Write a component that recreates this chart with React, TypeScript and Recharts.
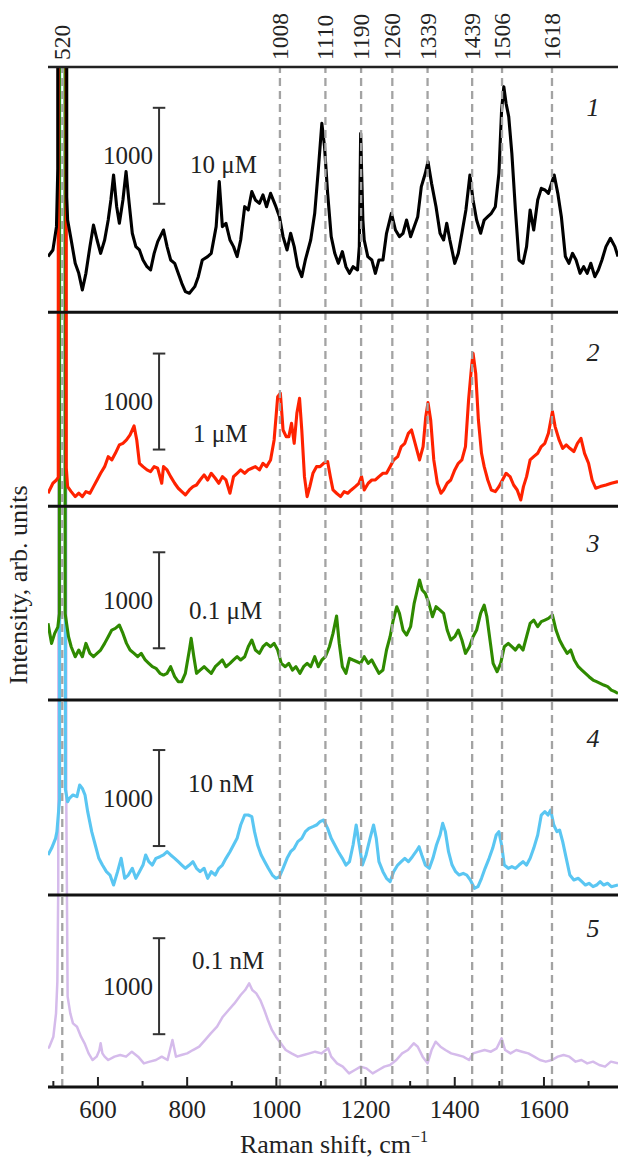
import { LineChart, Line, XAxis, YAxis, ReferenceLine } from 'recharts';

// Raman shift (cm-1) / intensity pairs, one array per spectrum.
// Intensity is counted from the bottom of each spectrum's own panel.
const spectrum10uM: [number, number][] = [
  [488, 580], [499, 649], [507, 892], [510, 1500], [510.5, 40000], [529.5, 40000], [530, 1200], [532, 961],
  [540, 753], [549, 510], [557, 406], [565, 232], [573, 406], [582, 684], [590, 909], [598, 753],
  [606, 614], [615, 753], [623, 961], [629, 1170], [635, 1430], [642, 1100], [648, 927], [656, 1170],
  [663, 1465], [670, 1135], [677, 823], [685, 684], [693, 649], [701, 545], [710, 475], [718, 441],
  [726, 614], [734, 736], [747, 857], [755, 684], [763, 545], [772, 510], [780, 406], [788, 302],
  [796, 215], [805, 198], [817, 267], [825, 371], [834, 545], [846, 580], [854, 614], [865, 892],
  [872, 1361], [879, 892], [887, 927], [896, 753], [904, 684], [912, 580], [920, 753], [929, 1100],
  [937, 1066], [945, 1257], [953, 1170], [962, 1135], [970, 1222], [978, 1100], [987, 1239], [999, 1100],
  [1007, 996], [1015, 788], [1024, 649], [1032, 823], [1040, 684], [1048, 475], [1057, 371], [1065, 545],
  [1077, 753], [1086, 1031], [1094, 1482], [1102, 1968], [1108, 1725], [1115, 1239], [1123, 788], [1131, 614],
  [1139, 510], [1148, 632], [1156, 475], [1164, 406], [1172, 475], [1182, 441], [1186, 684], [1189, 1864],
  [1194, 961], [1197, 753], [1205, 580], [1214, 545], [1222, 406], [1230, 545], [1239, 545], [1247, 823],
  [1258, 1031], [1267, 857], [1276, 788], [1284, 823], [1292, 961], [1301, 788], [1309, 892], [1317, 996],
  [1325, 1309], [1334, 1448], [1340, 1569], [1348, 1343], [1358, 1100], [1367, 823], [1375, 753], [1382, 927],
  [1389, 753], [1400, 510], [1408, 614], [1416, 823], [1425, 1066], [1434, 1430], [1441, 1170], [1449, 961],
  [1458, 823], [1466, 961], [1474, 996], [1482, 1031], [1491, 1100], [1499, 1448], [1505, 2107], [1510, 2350],
  [1515, 2177], [1521, 2038], [1528, 1656], [1536, 1066], [1544, 545], [1553, 510], [1561, 684], [1569, 1066],
  [1577, 857], [1586, 1170], [1594, 1291], [1602, 1274], [1610, 1239], [1623, 1430], [1631, 1239], [1639, 996],
  [1648, 580], [1656, 510], [1664, 614], [1672, 545], [1681, 406], [1689, 475], [1697, 406], [1705, 510],
  [1714, 371], [1722, 441], [1730, 545], [1739, 684], [1749, 770], [1759, 684], [1766, 580],
];

const spectrum1uM: [number, number][] = [
  [488, 135], [499, 239], [507, 273], [511, 300], [511.5, 40000], [528.5, 40000], [529, 400], [532, 204],
  [540, 152], [549, 100], [557, 135], [565, 100], [573, 152], [582, 135], [590, 204], [598, 273],
  [606, 343], [615, 412], [623, 516], [631, 482], [639, 551], [648, 638], [656, 655], [664, 690],
  [672, 742], [681, 836], [687, 690], [693, 447], [701, 412], [710, 378], [718, 360], [726, 412],
  [734, 395], [743, 239], [747, 412], [755, 378], [763, 308], [772, 239], [780, 187], [788, 152],
  [796, 117], [805, 169], [813, 204], [821, 221], [829, 273], [838, 326], [846, 273], [854, 343],
  [863, 291], [871, 239], [879, 308], [887, 273], [896, 135], [904, 308], [912, 343], [920, 378],
  [929, 343], [937, 378], [945, 395], [953, 412], [962, 378], [970, 447], [978, 412], [987, 482],
  [995, 690], [1003, 1141], [1009, 1176], [1015, 794], [1022, 725], [1028, 725], [1034, 864], [1040, 655],
  [1046, 968], [1052, 1124], [1057, 794], [1063, 308], [1069, 100], [1075, 204], [1082, 343], [1090, 412],
  [1098, 412], [1106, 447], [1115, 464], [1121, 308], [1127, 169], [1135, 135], [1144, 100], [1152, 152],
  [1160, 135], [1168, 169], [1177, 204], [1185, 239], [1191, 308], [1197, 169], [1206, 239], [1214, 273],
  [1222, 273], [1230, 308], [1239, 343], [1247, 343], [1255, 412], [1263, 482], [1272, 516], [1280, 621],
  [1288, 655], [1296, 759], [1303, 794], [1309, 690], [1315, 586], [1321, 482], [1329, 621], [1335, 933],
  [1340, 1079], [1346, 898], [1353, 482], [1361, 239], [1369, 135], [1375, 169], [1383, 239], [1391, 273],
  [1400, 378], [1408, 447], [1416, 482], [1424, 621], [1431, 1107], [1437, 1419], [1441, 1593], [1447, 1384],
  [1453, 898], [1460, 551], [1466, 412], [1474, 273], [1482, 169], [1491, 152], [1499, 204], [1507, 273],
  [1515, 343], [1524, 308], [1532, 221], [1540, 169], [1548, 65], [1554, 204], [1561, 308], [1569, 482],
  [1577, 516], [1586, 551], [1594, 621], [1602, 655], [1610, 759], [1619, 985], [1625, 829], [1634, 690],
  [1642, 603], [1650, 638], [1658, 603], [1667, 569], [1675, 655], [1683, 707], [1691, 551], [1700, 447],
  [1708, 273], [1716, 187], [1726, 204], [1739, 221], [1751, 239], [1766, 256],
];

const spectrum01uM: [number, number][] = [
  [488, 800], [496, 591], [503, 695], [510, 760], [513.5, 900], [514, 40000], [526, 40000], [526.5, 900],
  [534, 661], [540, 556], [549, 452], [557, 522], [565, 452], [573, 591], [582, 487], [590, 452], [598, 487],
  [606, 522], [615, 591], [623, 661], [631, 730], [639, 747], [648, 782], [656, 695], [664, 591],
  [672, 522], [681, 487], [689, 452], [697, 487], [706, 418], [714, 383], [722, 348], [730, 331],
  [739, 279], [747, 261], [755, 279], [763, 348], [772, 244], [780, 192], [788, 192], [796, 279],
  [805, 522], [809, 643], [815, 452], [821, 279], [829, 313], [838, 348], [846, 313], [854, 279],
  [863, 348], [871, 383], [879, 418], [887, 348], [896, 383], [904, 418], [912, 452], [920, 418],
  [929, 452], [937, 556], [945, 626], [953, 522], [962, 487], [970, 556], [978, 591], [987, 556],
  [995, 591], [1003, 522], [1011, 383], [1020, 348], [1028, 383], [1036, 313], [1044, 348], [1053, 279],
  [1061, 348], [1069, 383], [1077, 348], [1086, 452], [1094, 348], [1102, 418], [1110, 452], [1119, 556],
  [1127, 695], [1135, 876], [1141, 591], [1148, 348], [1156, 279], [1164, 435], [1172, 418], [1181, 400],
  [1189, 383], [1197, 452], [1206, 383], [1214, 418], [1222, 348], [1230, 279], [1239, 313], [1247, 522],
  [1255, 661], [1262, 834], [1270, 973], [1276, 904], [1284, 730], [1292, 678], [1301, 765], [1309, 1008],
  [1315, 1129], [1321, 1251], [1327, 1147], [1334, 1112], [1342, 1008], [1350, 869], [1358, 973], [1367, 938],
  [1375, 904], [1383, 730], [1391, 626], [1400, 661], [1408, 730], [1416, 626], [1424, 487], [1433, 556],
  [1441, 661], [1449, 730], [1458, 904], [1466, 990], [1472, 869], [1480, 591], [1486, 383], [1495, 296],
  [1503, 383], [1511, 556], [1520, 591], [1528, 556], [1536, 522], [1544, 574], [1553, 522], [1561, 661],
  [1569, 800], [1577, 834], [1586, 765], [1594, 817], [1602, 834], [1610, 852], [1619, 886], [1627, 730],
  [1635, 626], [1643, 556], [1652, 487], [1660, 522], [1668, 418], [1677, 348], [1685, 313], [1693, 279],
  [1701, 244], [1710, 209], [1718, 192], [1726, 175], [1734, 157], [1743, 140], [1751, 105], [1759, 88],
  [1766, 70],
];

const spectrum10nM: [number, number][] = [
  [488, 417], [496, 486], [505, 590], [508, 660], [514, 1000], [515, 40000], [525, 40000], [527, 1100],
  [532, 972], [536, 1007], [544, 1042], [553, 1024], [559, 1146], [565, 1111], [571, 1042], [577, 868],
  [586, 660], [594, 521], [602, 382], [610, 312], [619, 243], [627, 208], [635, 104], [644, 243],
  [652, 382], [660, 174], [668, 208], [677, 278], [685, 174], [693, 243], [701, 312], [707, 417],
  [714, 347], [722, 312], [730, 382], [739, 399], [747, 417], [755, 451], [763, 417], [772, 382],
  [780, 347], [788, 312], [796, 278], [805, 312], [813, 347], [821, 278], [829, 243], [838, 278],
  [846, 174], [854, 243], [863, 208], [871, 278], [879, 312], [887, 382], [896, 451], [904, 521],
  [912, 590], [920, 729], [929, 833], [937, 833], [945, 816], [951, 660], [958, 521], [966, 417],
  [974, 347], [982, 278], [991, 208], [999, 174], [1007, 191], [1015, 278], [1024, 382], [1032, 451],
  [1040, 486], [1048, 556], [1057, 590], [1065, 660], [1073, 694], [1082, 712], [1090, 729], [1098, 764],
  [1106, 781], [1115, 694], [1123, 590], [1131, 521], [1139, 451], [1148, 382], [1156, 312], [1164, 347],
  [1172, 521], [1179, 729], [1186, 521], [1193, 312], [1201, 417], [1210, 590], [1218, 729], [1224, 590],
  [1230, 347], [1239, 243], [1247, 174], [1255, 139], [1263, 243], [1272, 312], [1280, 347], [1288, 382],
  [1296, 347], [1305, 399], [1313, 451], [1320, 503], [1326, 417], [1334, 312], [1343, 278], [1351, 382],
  [1359, 521], [1367, 625], [1373, 746], [1379, 660], [1386, 451], [1394, 312], [1402, 243], [1410, 208],
  [1419, 226], [1427, 208], [1435, 156], [1444, 70], [1452, 87], [1460, 174], [1468, 278], [1477, 382],
  [1485, 486], [1493, 625], [1499, 660], [1505, 521], [1511, 312], [1520, 278], [1528, 295], [1536, 278],
  [1544, 312], [1553, 347], [1561, 312], [1569, 382], [1577, 486], [1586, 625], [1594, 833], [1602, 868],
  [1609, 833], [1615, 885], [1622, 729], [1629, 660], [1635, 677], [1642, 556], [1650, 382], [1658, 208],
  [1667, 156], [1677, 174], [1685, 139], [1693, 104], [1701, 122], [1710, 87], [1718, 104], [1726, 139],
  [1734, 104], [1743, 122], [1751, 87], [1766, 104],
];

const spectrum01nM: [number, number][] = [
  [488, 400], [491, 420], [500, 524], [506, 767], [509, 1100], [511, 2100], [513, 40000], [527, 40000],
  [529, 3000], [532, 941], [538, 767], [544, 663], [553, 628], [562, 524], [570, 455],
  [579, 350], [588, 281], [597, 316], [603, 380], [606, 455], [610, 350], [615, 316], [623, 281],
  [637, 316], [650, 333], [663, 316], [676, 368], [690, 316], [703, 246], [716, 264], [730, 281],
  [743, 316], [756, 281], [767, 489], [775, 316], [787, 333], [800, 350], [813, 385], [827, 420],
  [840, 489], [853, 559], [867, 628], [880, 732], [893, 802], [906, 871], [920, 958], [930, 1010],
  [939, 1080], [946, 1010], [955, 975], [964, 906], [973, 802], [981, 698], [990, 594], [999, 524],
  [1010, 455], [1021, 385], [1034, 350], [1048, 316], [1061, 333], [1074, 350], [1087, 368], [1101, 350],
  [1116, 403], [1123, 316], [1136, 246], [1149, 212], [1163, 142], [1176, 177], [1189, 212], [1202, 194],
  [1216, 142], [1229, 177], [1242, 212], [1255, 229], [1269, 281], [1282, 350], [1295, 385], [1308, 455],
  [1317, 420], [1328, 316], [1339, 246], [1348, 385], [1357, 472], [1368, 420], [1379, 385], [1392, 350],
  [1406, 333], [1419, 316], [1432, 281], [1441, 350], [1454, 368], [1467, 385], [1481, 368], [1494, 403],
  [1505, 507], [1513, 385], [1525, 350], [1538, 385], [1551, 368], [1565, 350], [1578, 316], [1591, 281],
  [1604, 264], [1618, 281], [1631, 316], [1644, 333], [1657, 316], [1671, 264], [1684, 281], [1697, 246],
  [1710, 264], [1724, 229], [1737, 212], [1750, 264], [1766, 246],
];

const spectra = [spectrum10uM, spectrum1uM, spectrum01uM, spectrum10nM, spectrum01nM];
const concentrations = ['10 μM', '1 μM', '0.1 μM', '10 nM', '0.1 nM'];
const colors = ['#000000', '#ff2200', '#2f8a00', '#5ac6f2', '#d5bbeb'];

// vertical stacking: where each panel starts on the common intensity axis
const panelOffsets = [8070, 6050, 4030, 2000, 0];
const panelEdges = [2000, 4030, 6050, 8070];
const yTop = 10625;
const yTicks = [42, 1031, 2042, 3063, 4060, 5073, 6120, 7073, 8083, 9094, 10104];
const scaleBarBottoms = [9200, 6640, 4570, 2510, 550];
const scaleBarShift = 737;
const scaleBarSize = 1000;

const peaks = [520, 1008, 1110, 1190, 1260, 1339, 1439, 1506, 1618];
const xTicks = [500, 600, 700, 800, 900, 1000, 1100, 1200, 1300, 1400, 1500, 1600, 1700];
const xLabels = [600, 800, 1000, 1200, 1400, 1600];

const FONT = '"Liberation Serif", "Times New Roman", serif';
const INK = '#222';

const series = spectra.map((points, i) =>
  points.map(([x, y]) => ({ x, y: y + panelOffsets[i] }))
);

function BottomTick({ x, y, payload }: any) {
  const major = xLabels.includes(payload.value);
  return (
    <g>
      <line x1={x} x2={x} y1={y} y2={y - (major ? 10 : 6)} stroke={INK} strokeWidth={2} />
      {major && (
        <text x={x} y={y + 31} textAnchor="middle" fontSize={25} fontFamily={FONT} fill={INK}>
          {payload.value}
        </text>
      )}
    </g>
  );
}

const peakLabel = (text: string) => (props: any) => {
  const { x, y } = props.viewBox;
  return (
    <text
      transform={`translate(${x + 8},${y - 7}) rotate(-90)`}
      fontSize={23.5}
      fontFamily={FONT}
      fill={INK}
    >
      {text}
    </text>
  );
};

const scaleLabel = (props: any) => {
  const { x, y, height } = props.viewBox;
  return (
    <text
      x={x - 6}
      y={y + height / 2}
      textAnchor="end"
      dominantBaseline="central"
      fontSize={25}
      fontFamily={FONT}
      fill={INK}
    >
      1000
    </text>
  );
};

const concPos = [
  [190, 164], [193, 433], [189, 610], [188, 783], [192, 960],
];
const numberPos = [107, 352, 543, 738, 928];

export default function App() {
  return (
    <div style={{ position: 'absolute', left: 0, top: 0, width: 618, height: 1160, background: '#fff', overflow: 'hidden' }}>
      <LineChart width={618} height={1160} margin={{ top: 67, right: 0, bottom: 33, left: 48 }}>
        <XAxis
          type="number"
          dataKey="x"
          domain={[488, 1766]}
          allowDataOverflow
          ticks={xTicks}
          interval={0}
          height={40}
          tickSize={0}
          tickMargin={0}
          tickLine={false}
          tick={<BottomTick />}
          axisLine={{ stroke: '#111', strokeWidth: 3 }}
        />
        <YAxis
          type="number"
          domain={[0, yTop]}
          allowDataOverflow
          ticks={yTicks}
          interval={0}
          width={0}
          mirror
          tick={false}
          tickSize={7}
          tickLine={{ stroke: '#333', strokeWidth: 1.5 }}
          axisLine={{ stroke: '#333', strokeWidth: 2 }}
        />
        {series
          .map((data, i) => (
            <Line
              key={concentrations[i]}
              data={data}
              dataKey="y"
              type="linear"
              stroke={colors[i]}
              strokeWidth={i === 4 ? 2.5 : 3.1}
              strokeLinejoin="round"
              dot={false}
              activeDot={false}
              isAnimationActive={false}
            />
          ))
          .reverse()}
        {peaks.map((p) => (
          <ReferenceLine
            key={p}
            x={p}
            stroke="#a3a3a3"
            strokeWidth={2.3}
            strokeDasharray="8 5"
            label={peakLabel(String(p))}
          />
        ))}
        {panelEdges.map((e) => (
          <ReferenceLine key={e} y={e} stroke="#111" strokeWidth={3} />
        ))}
        <ReferenceLine y={yTop} stroke="#222" strokeWidth={2.5} />
        {scaleBarBottoms.map((b) => (
          <ReferenceLine
            key={'bar' + b}
            segment={[{ x: scaleBarShift, y: b }, { x: scaleBarShift, y: b + scaleBarSize }]}
            stroke="#333"
            strokeWidth={2}
            label={scaleLabel}
          />
        ))}
        {scaleBarBottoms.flatMap((b) =>
          [b, b + scaleBarSize].map((c) => (
            <ReferenceLine
              key={'cap' + c}
              segment={[{ x: scaleBarShift - 14, y: c }, { x: scaleBarShift + 14, y: c }]}
              stroke="#333"
              strokeWidth={2}
            />
          ))
        )}
      </LineChart>

      <svg width={618} height={1160} style={{ position: 'absolute', left: 0, top: 0, pointerEvents: 'none' }}>
        <g fontFamily={FONT} fill={INK}>
          {concentrations.map((c, i) => (
            <text key={c} x={concPos[i][0]} y={concPos[i][1]} fontSize={25} dominantBaseline="central">
              {c}
            </text>
          ))}
          {numberPos.map((y, i) => (
            <text key={i} x={593} y={y} fontSize={26} fontStyle="italic" textAnchor="middle" dominantBaseline="central">
              {i + 1}
            </text>
          ))}
          <text transform="translate(18,585) rotate(-90)" fontSize={26} textAnchor="middle" dominantBaseline="central">
            Intensity, arb. units
          </text>
          <text x={334} y={1153} fontSize={26} textAnchor="middle">
            Raman shift, cm
            <tspan fontSize={16} dy={-11}>−1</tspan>
          </text>
        </g>
      </svg>
    </div>
  );
}
